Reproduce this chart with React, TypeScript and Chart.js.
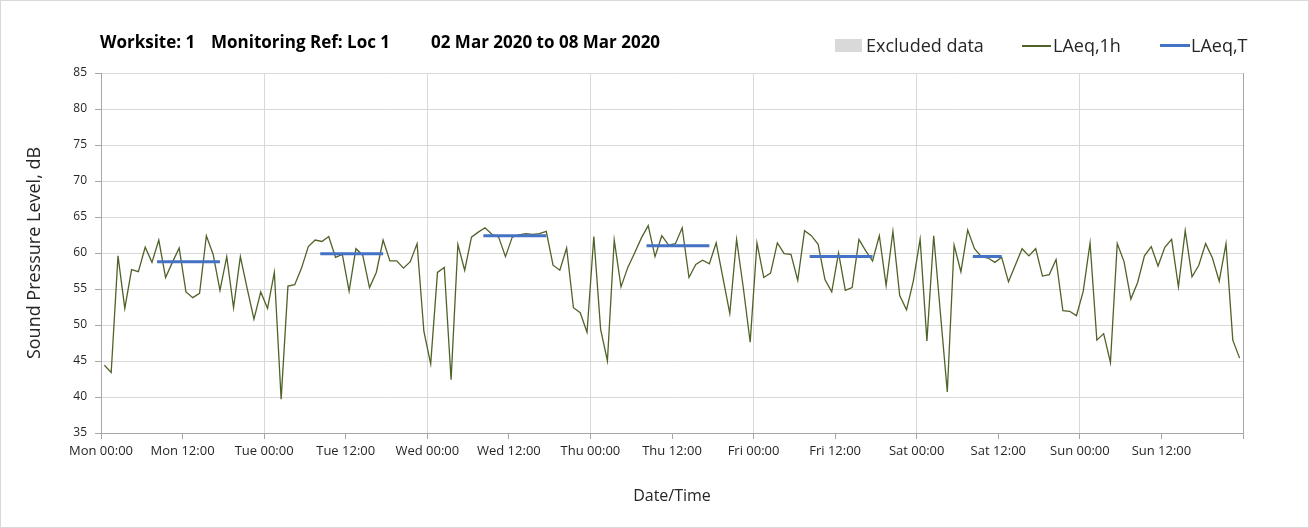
import React, { useEffect, useRef } from 'react';
import { Chart, registerables } from 'chart.js';

Chart.register(...registerables);

const tickLabels = [
  'Mon 00:00', 'Mon 12:00', 'Tue 00:00', 'Tue 12:00', 'Wed 00:00', 'Wed 12:00',
  'Thu 00:00', 'Thu 12:00', 'Fri 00:00', 'Fri 12:00', 'Sat 00:00', 'Sat 12:00',
  'Sun 00:00', 'Sun 12:00',
];

// Hourly LAeq,1h values (dB), Mon 00:00 .. Sun 23:00
const laeq1hMon = [44.4, 43.4, 59.6, 52.3, 57.7, 57.4, 60.8, 58.7, 61.8, 56.6, 58.7, 60.7,
  54.6, 53.8, 54.4, 62.4, 59.8, 54.8, 59.5, 52.4, 59.5, 55.1, 50.8, 54.6];
const laeq1hTue = [52.3, 57.3, 39.7, 55.4, 55.6, 57.9, 60.9, 61.8, 61.6, 62.3, 59.4, 59.8,
  54.7, 60.6, 59.7, 55.2, 57.3, 61.8, 58.9, 58.9, 57.9, 58.8, 61.3, 49.1];
const laeq1hWed = [44.6, 57.3, 58.0, 42.4, 61.2, 57.6, 62.2, 62.9, 63.5, 62.6, 62.2, 59.5,
  62.2, 62.5, 62.7, 62.6, 62.7, 63.0, 58.3, 57.6, 60.7, 52.4, 51.7, 49.0];
const laeq1hThu = [62.3, 49.4, 45.0, 61.8, 55.3, 58.0, 60.0, 62.1, 63.8, 59.5, 62.4, 61.1,
  61.3, 63.5, 56.6, 58.4, 59.0, 58.5, 61.4, 56.5, 51.6, 61.9, 55.1, 47.6];
const laeq1hFri = [61.4, 56.6, 57.2, 61.4, 59.9, 59.8, 56.2, 63.1, 62.4, 61.2, 56.3, 54.6,
  60.0, 54.8, 55.2, 61.9, 60.3, 58.9, 62.4, 55.5, 63.0, 54.1, 52.1, 56.1];
const laeq1hSat = [61.9, 47.8, 62.4, 51.5, 40.7, 61.1, 57.4, 63.2, 60.6, 59.5, 59.3, 58.7,
  59.4, 56.0, 58.3, 60.6, 59.6, 60.6, 56.8, 57.0, 59.1, 52.0, 51.9, 51.3];
const laeq1hSun = [54.7, 61.4, 47.9, 48.8, 44.8, 61.3, 58.8, 53.6, 55.9, 59.6, 60.9, 58.2,
  60.8, 61.9, 55.3, 63.1, 56.7, 58.3, 61.3, 59.3, 56.1, 61.3, 47.9, 45.4];

// LAeq,T daytime periods
const periodDay = [0, 1, 2, 3, 4, 5];
const periodStartHour = [8.25, 8.25, 8.25, 8.25, 8.25, 8.25];
const periodEndHour = [17.5, 17.5, 17.5, 17.5, 17.5, 12.5];
const laeqT = [58.8, 59.9, 62.4, 61.0, 59.5, 59.5];

const FONT = "'Open Sans', 'DejaVu Sans', sans-serif";

export default function App() {
  const canvasRef = useRef<HTMLCanvasElement | null>(null);

  useEffect(() => {
    document.body.style.margin = '0';
    const canvas = canvasRef.current;
    if (!canvas) return;

    const hourly = [
      ...laeq1hMon, ...laeq1hTue, ...laeq1hWed, ...laeq1hThu,
      ...laeq1hFri, ...laeq1hSat, ...laeq1hSun,
    ];
    const hourlyPts = hourly.map((v, i) => ({ x: i + 0.5, y: v }));
    const periodPts: { x: number; y: number | null }[] = [];
    periodDay.forEach((d, i) => {
      periodPts.push({ x: d * 24 + periodStartHour[i], y: laeqT[i] });
      periodPts.push({ x: d * 24 + periodEndHour[i], y: laeqT[i] });
      periodPts.push({ x: d * 24 + periodEndHour[i] + 0.01, y: null });
    });

    const chart = new Chart(canvas, {
      type: 'line',
      data: {
        datasets: [
          {
            label: 'LAeq,1h',
            data: hourlyPts,
            borderColor: '#4f6228',
            borderWidth: 1.3,
            pointRadius: 0,
            tension: 0,
            order: 2,
          },
          {
            label: 'LAeq,T',
            data: periodPts as any,
            borderColor: '#4472c4',
            borderWidth: 3,
            pointRadius: 0,
            spanGaps: false,
            order: 1,
          },
        ],
      },
      options: {
        animation: false,
        responsive: false,
        events: [],
        layout: { padding: { left: 0, top: 73, right: 66, bottom: 0 } },
        plugins: {
          legend: { display: false },
          title: { display: false },
          tooltip: { enabled: false },
        },
        scales: {
          x: {
            type: 'linear',
            min: 0,
            max: 168,
            afterFit: (scale: any) => { scale.height = 95; },
            ticks: {
              stepSize: 12,
              autoSkip: false,
              maxRotation: 0,
              minRotation: 0,
              padding: 4,
              color: '#262626',
              font: { family: FONT, size: 13 },
              callback: (v: any) => tickLabels[Math.round(Number(v) / 12)] ?? '',
            },
            grid: {
              color: (ctx: any) => {
                const v = ctx.tick ? ctx.tick.value : 0;
                if (v === 168) return '#a6a6a6';
                return v % 24 === 0 ? '#d9d9d9' : 'rgba(0,0,0,0)';
              },
              tickColor: '#a6a6a6',
              tickLength: 6,
              lineWidth: 1,
            },
            border: { color: '#a6a6a6', width: 1 },
            title: {
              display: true,
              text: 'Date/Time',
              color: '#262626',
              font: { family: FONT, size: 16 },
              padding: { top: 0, bottom: 22 },
            },
          },
          y: {
            min: 35,
            max: 85,
            afterFit: (scale: any) => { scale.width = 101; },
            ticks: {
              stepSize: 5,
              padding: 8,
              color: '#262626',
              font: { family: FONT, size: 12 },
            },
            grid: {
              color: '#d9d9d9',
              tickColor: '#a6a6a6',
              tickLength: 6,
              lineWidth: 1,
            },
            border: { color: '#a6a6a6', width: 1 },
            title: {
              display: true,
              text: 'Sound Pressure Level, dB',
              color: '#262626',
              font: { family: FONT, size: 18 },
              padding: { top: 24, bottom: 0 },
            },
          },
        },
      },
    });
    return () => chart.destroy();
  }, []);

  const titleStyle: React.CSSProperties = {
    position: 'absolute', top: 31, fontFamily: FONT, fontWeight: 700,
    fontSize: 17, color: '#000', whiteSpace: 'pre', lineHeight: '22px',
  };
  const legText: React.CSSProperties = {
    position: 'absolute', top: 33, fontFamily: FONT, fontSize: 18,
    color: '#262626', whiteSpace: 'pre', lineHeight: '24px',
  };

  return (
    <div style={{ position: 'relative', width: 1309, height: 528, background: '#fff', overflow: 'hidden' }}>
      <canvas ref={canvasRef} width={1309} height={528} style={{ position: 'absolute', left: 0, top: 0, width: 1309, height: 528 }} />
      <span style={{ ...titleStyle, left: 100 }}>Worksite: 1</span>
      <span style={{ ...titleStyle, left: 211 }}>Monitoring Ref: Loc 1</span>
      <span style={{ ...titleStyle, left: 431 }}>02 Mar 2020 to 08 Mar 2020</span>

      <div style={{ position: 'absolute', left: 835, top: 39, width: 27, height: 13, background: '#d9d9d9' }} />
      <span style={{ ...legText, left: 866 }}>Excluded data</span>
      <div style={{ position: 'absolute', left: 1022, top: 45, width: 29, height: 1.5, background: '#4f6228' }} />
      <span style={{ ...legText, left: 1053 }}>LAeq,1h</span>
      <div style={{ position: 'absolute', left: 1160, top: 44, width: 30, height: 3, background: '#4472c4' }} />
      <span style={{ ...legText, left: 1191 }}>LAeq,T</span>

      <div style={{ position: 'absolute', left: 0, top: 0, width: 1309, height: 528, boxSizing: 'border-box', border: '1px solid #d9d9d9', pointerEvents: 'none' }} />
    </div>
  );
}
